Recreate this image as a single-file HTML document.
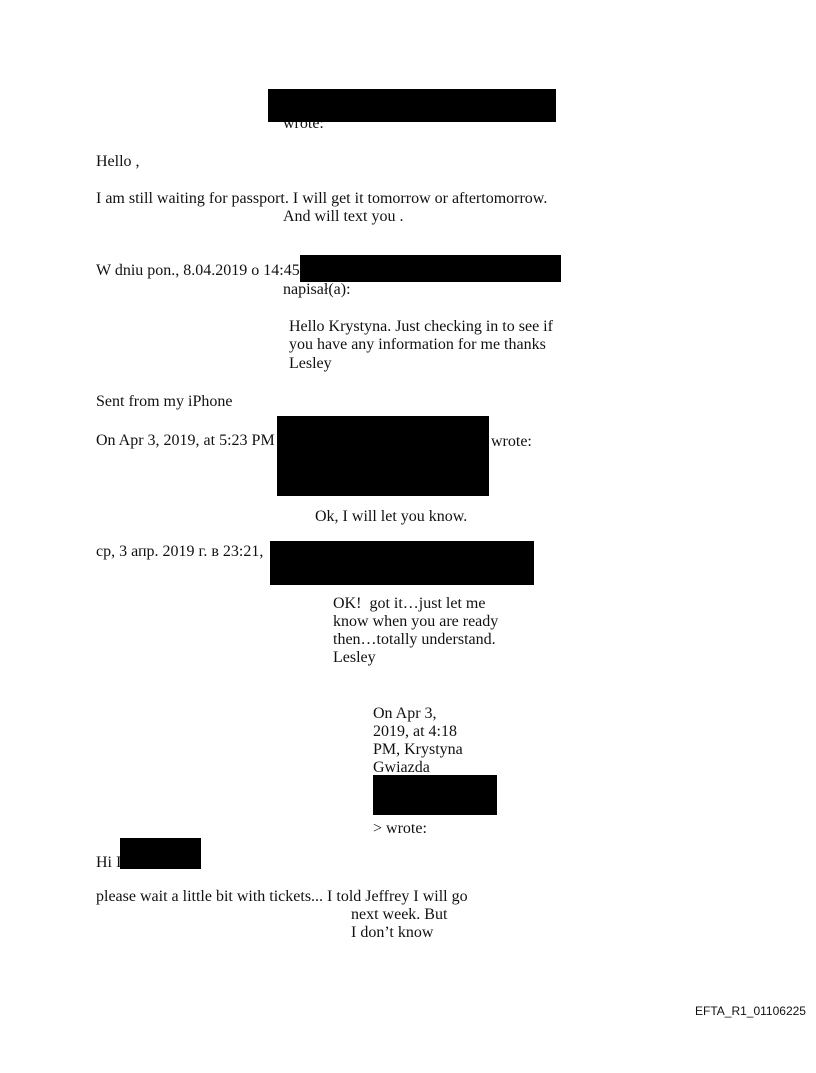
<!DOCTYPE html>
<html><head><meta charset="utf-8"><style>
body{margin:0;background:#fff;width:816px;height:1073px;position:relative;overflow:hidden;font-family:"Liberation Serif",serif;font-size:16px;color:#111}
.t{position:absolute;line-height:18px;white-space:nowrap}
.r{position:absolute;background:#000}
</style></head><body>
<div class="t" style="left:283px;top:115px">wrote:</div>
<div class="r" style="left:268px;top:89px;width:288px;height:33px"></div>
<div class="t" style="left:96px;top:153px">Hello ,</div>
<div class="t" style="left:96px;top:190px">I am still waiting for passport. I will get it tomorrow or aftertomorrow.</div>
<div class="t" style="left:283px;top:208px">And will text you .</div>
<div class="t" style="left:96px;top:262px">W dniu pon., 8.04.2019 o 14:45</div>
<div class="r" style="left:300px;top:255px;width:261px;height:27px"></div>
<div class="t" style="left:283px;top:281px">napisał(a):</div>
<div class="t" style="left:289px;top:318px">Hello Krystyna. Just checking in to see if</div>
<div class="t" style="left:289px;top:336px">you have any information for me thanks</div>
<div class="t" style="left:289px;top:355px">Lesley</div>
<div class="t" style="left:96px;top:393px">Sent from my iPhone</div>
<div class="t" style="left:96px;top:432px">On Apr 3, 2019, at 5:23 PM</div>
<div class="t" style="left:491px;top:433px">wrote:</div>
<div class="r" style="left:277px;top:416px;width:212px;height:80px"></div>
<div class="t" style="left:315px;top:508px">Ok, I will let you know.</div>
<div class="t" style="left:96px;top:543px">ср, 3 апр. 2019 г. в 23:21,</div>
<div class="r" style="left:270px;top:541px;width:264px;height:44px"></div>
<div class="t" style="left:333px;top:595px">OK!&nbsp; got it…just let me</div>
<div class="t" style="left:333px;top:613px">know when you are ready</div>
<div class="t" style="left:333px;top:631px">then…totally understand.</div>
<div class="t" style="left:333px;top:649px">Lesley</div>
<div class="t" style="left:373px;top:705px">On Apr 3,</div>
<div class="t" style="left:373px;top:723px">2019, at 4:18</div>
<div class="t" style="left:373px;top:741px">PM, Krystyna</div>
<div class="t" style="left:373px;top:759px">Gwiazda</div>
<div class="r" style="left:373px;top:775px;width:124px;height:40px"></div>
<div class="t" style="left:373px;top:820px">&gt; wrote:</div>
<div class="t" style="left:96px;top:854px">Hi I</div>
<div class="r" style="left:120px;top:838px;width:81px;height:31px"></div>
<div class="t" style="left:96px;top:888px">please wait a little bit with tickets... I told Jeffrey I will go</div>
<div class="t" style="left:351px;top:906px">next week. But</div>
<div class="t" style="left:351px;top:924px">I don’t know</div>
<div class="t" style="left:695px;top:1002px;font-family:'Liberation Sans',sans-serif;font-size:12px">EFTA_R1_01106225</div>
</body></html>
